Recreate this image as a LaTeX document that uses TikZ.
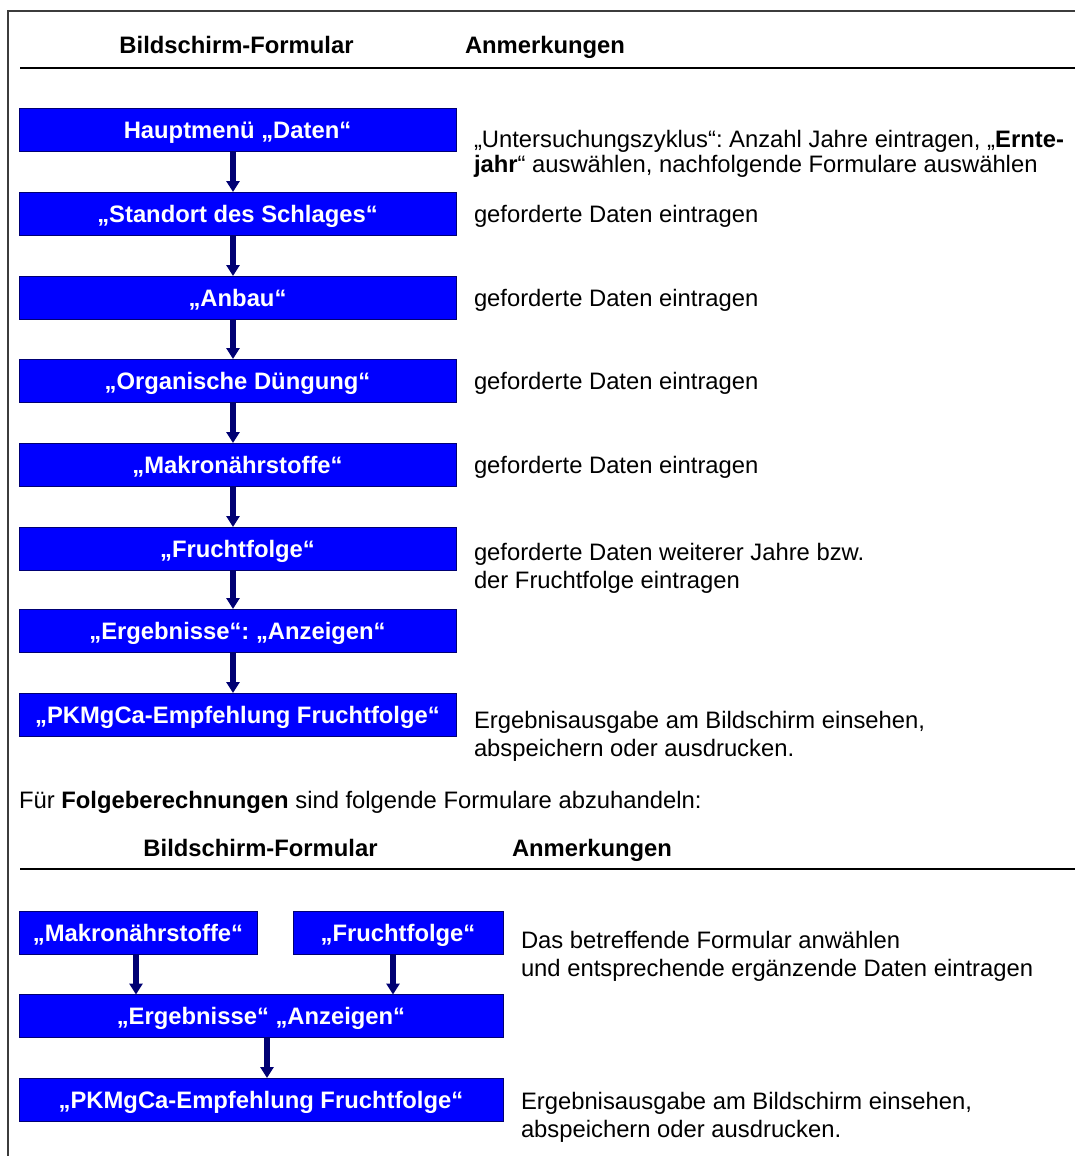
\documentclass[tikz,border=0pt]{standalone}
\usepackage{fontspec}
\setmainfont{Liberation Sans}
\usetikzlibrary{arrows.meta}
\definecolor{boxblue}{RGB}{0,0,255}
\definecolor{navyline}{RGB}{0,0,115}
\definecolor{framegray}{RGB}{60,60,60}
\frenchspacing
\begin{document}
\begin{tikzpicture}[x=1pt,y=-1pt,
  every node/.style={font=\fontsize{23.8}{28}\selectfont, inner sep=0pt, outer sep=0pt},
  oneline/.style={text height=17pt, text depth=0pt},
  formbox/.style={draw=navyline, line width=1pt, fill=boxblue, text=white,
    font=\fontsize{23.8}{28}\selectfont\bfseries, minimum height=43pt,
    text height=17pt, text depth=0pt},
  flow/.style={draw=navyline, line width=6pt, -{Triangle[width=13pt,length=11pt]}},
  note/.style={anchor=north west, align=left},
  headtext/.style={font=\fontsize{23.8}{28}\selectfont\bfseries, oneline},
  rulestyle/.style={line width=2pt, black}]
\useasboundingbox (0,0) rectangle (1075,1156);
% frame
\draw[line width=2pt, framegray] (8,1160) -- (8,11) -- (1080,11);
% header 1
\node[headtext] (h1a) at (236.5,45) {Bildschirm-Formular};
\node[headtext, anchor=west] (h1b) at (465,45) {Anmerkungen};
\coordinate (r1a) at (20,68);
\coordinate (r1b) at (1080,68);
\draw[rulestyle] (r1a) -- (r1b);
% boxes section 1
\node[formbox, minimum width=437pt] (b1) at (237.5,129.5) {Hauptmenü „Daten“};
\node[formbox, minimum width=437pt] (b2) at (237.5,213.5) {„Standort des Schlages“};
\node[formbox, minimum width=437pt] (b3) at (237.5,297.5) {„Anbau“};
\node[formbox, minimum width=437pt] (b4) at (237.5,380.5) {„Organische Düngung“};
\node[formbox, minimum width=437pt] (b5) at (237.5,464.5) {„Makronährstoffe“};
\node[formbox, minimum width=437pt] (b6) at (237.5,548.5) {„Fruchtfolge“};
\node[formbox, minimum width=437pt] (b7) at (237.5,630.5) {„Ergebnisse“: „Anzeigen“};
\node[formbox, minimum width=437pt] (b8) at (237.5,714.5) {„PKMgCa-Empfehlung Fruchtfolge“};
\foreach \a/\b in {b1/b2,b2/b3,b3/b4,b4/b5,b5/b6,b6/b7,b7/b8}{
  \draw[flow] ([xshift=-4.5pt]\a.south) -- ([xshift=-4.5pt]\b.north);
}
% notes section 1
\node[note, font=\fontsize{23.8}{25}\selectfont] (n1) at (474,130)
  {„Untersuchungszyklus“: Anzahl Jahre eintragen, „\textbf{Ernte-}\\\textbf{jahr}“ auswählen, nachfolgende Formulare auswählen};
\node[oneline, anchor=west] (n2) at (474,213.5) {geforderte Daten eintragen};
\node[oneline, anchor=west] (n3) at (474,297.5) {geforderte Daten eintragen};
\node[oneline, anchor=west] (n4) at (474,380.5) {geforderte Daten eintragen};
\node[oneline, anchor=west] (n5) at (474,464.5) {geforderte Daten eintragen};
\node[note] (n6) at (474,543) {geforderte Daten weiterer Jahre bzw.\\der Fruchtfolge eintragen};
\node[note] (n8) at (474,711) {Ergebnisausgabe am Bildschirm einsehen,\\abspeichern oder ausdrucken.};
% middle text
\node[oneline, anchor=west] (mid) at (19,800) {Für \textbf{Folgeberechnungen} sind folgende Formulare abzuhandeln:};
% header 2
\node[headtext] (h2a) at (260.5,848) {Bildschirm-Formular};
\node[headtext, anchor=west] (h2b) at (512,848) {Anmerkungen};
\coordinate (r2a) at (20,869);
\coordinate (r2b) at (1080,869);
\draw[rulestyle] (r2a) -- (r2b);
% boxes section 2
\node[formbox, minimum width=238pt] (c1) at (138,933) {„Makronährstoffe“};
\node[formbox, minimum width=210pt] (c2) at (398,933) {„Fruchtfolge“};
\node[formbox, minimum width=484pt] (c3) at (261,1016) {„Ergebnisse“ „Anzeigen“};
\node[formbox, minimum width=484pt] (c4) at (261,1099.5) {„PKMgCa-Empfehlung Fruchtfolge“};
\draw[flow] ([xshift=-2pt]c1.south) -- ([xshift=-2pt]c1.south |- c3.north);
\draw[flow] ([xshift=-5pt]c2.south) -- ([xshift=-5pt]c2.south |- c3.north);
\draw[flow] ([xshift=6pt]c3.south) -- ([xshift=6pt]c4.north);
% notes section 2
\node[note] (m1) at (521,931) {Das betreffende Formular anwählen\\und entsprechende ergänzende Daten eintragen};
\node[note] (m2) at (521,1092) {Ergebnisausgabe am Bildschirm einsehen,\\abspeichern oder ausdrucken.};
\end{tikzpicture}
\end{document}
